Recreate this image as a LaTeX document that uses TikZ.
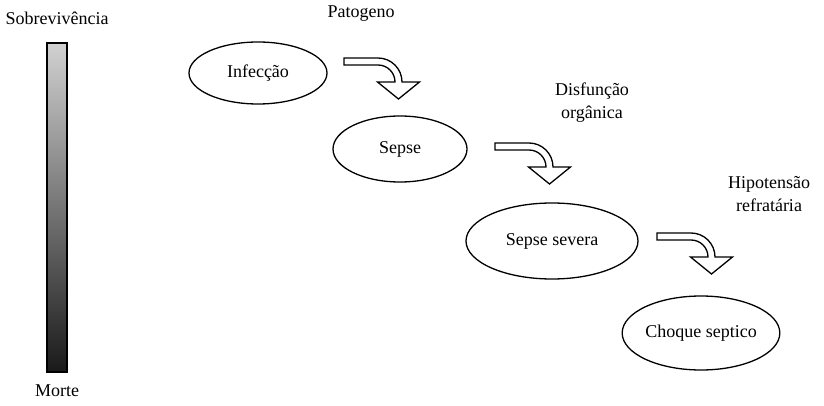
\documentclass[tikz,border=0pt]{standalone}
\usepackage{fontspec}
\setmainfont{Liberation Serif}
\usetikzlibrary{shapes.geometric}

\tikzset{
  stage/.style={ellipse,draw=black,line width=0.65pt,inner sep=0pt,font=\fontsize{9}{11.5}\selectfont},
  note/.style={font=\fontsize{9}{11.5}\selectfont,text=black,align=center},
  bentarrow/.pic={
    \draw[fill=white,line width=0.65pt,line join=miter]
      (-34,-24) -- (0,-24) .. controls (13.25,-24) and (24,-13.25) .. (24,0)
      -- (41.5,0) -- (20.5,17) -- (-0.5,0) -- (17,0)
      .. controls (17,-9.39) and (9.39,-17) .. (0,-17) -- (-34,-17) -- cycle;
  }
}

\begin{document}
\begin{tikzpicture}[x=0.5pt,y=-0.5pt]
\useasboundingbox (0,0) rectangle (824,406);

% survival bar
\shade[top color=black!18,bottom color=black!90] (47,43) rectangle (67,372);
\draw[black,line width=0.65pt] (47,43) rectangle (67,372);
\node[note] (surv) at (57,18) {Sobrevivência};
\node[note] (death) at (57,391) {Morte};

% stages
\node[stage,minimum width=69pt,minimum height=31pt] (infec) at (258,73) {Infecção};
\node[stage,minimum width=67pt,minimum height=33pt] (sepse) at (400,149) {Sepse};
\node[stage,minimum width=86pt,minimum height=38pt] (severa) at (552,241) {Sepse severa};
\node[stage,minimum width=72pt,minimum height=37pt] (choque) at (701,333) {Choque septico};

% bent arrows
\pic at (378,82) {bentarrow};
\pic at (529,167) {bentarrow};
\pic at (691,257) {bentarrow};

% labels
\node[note] (pato) at (361,14) {Patogeno};
\node[note] (disf) at (592,103) {Disfunção\\orgânica};
\node[note] (hipo) at (769,194) {Hipotensão\\refratária};

\end{tikzpicture}
\end{document}
